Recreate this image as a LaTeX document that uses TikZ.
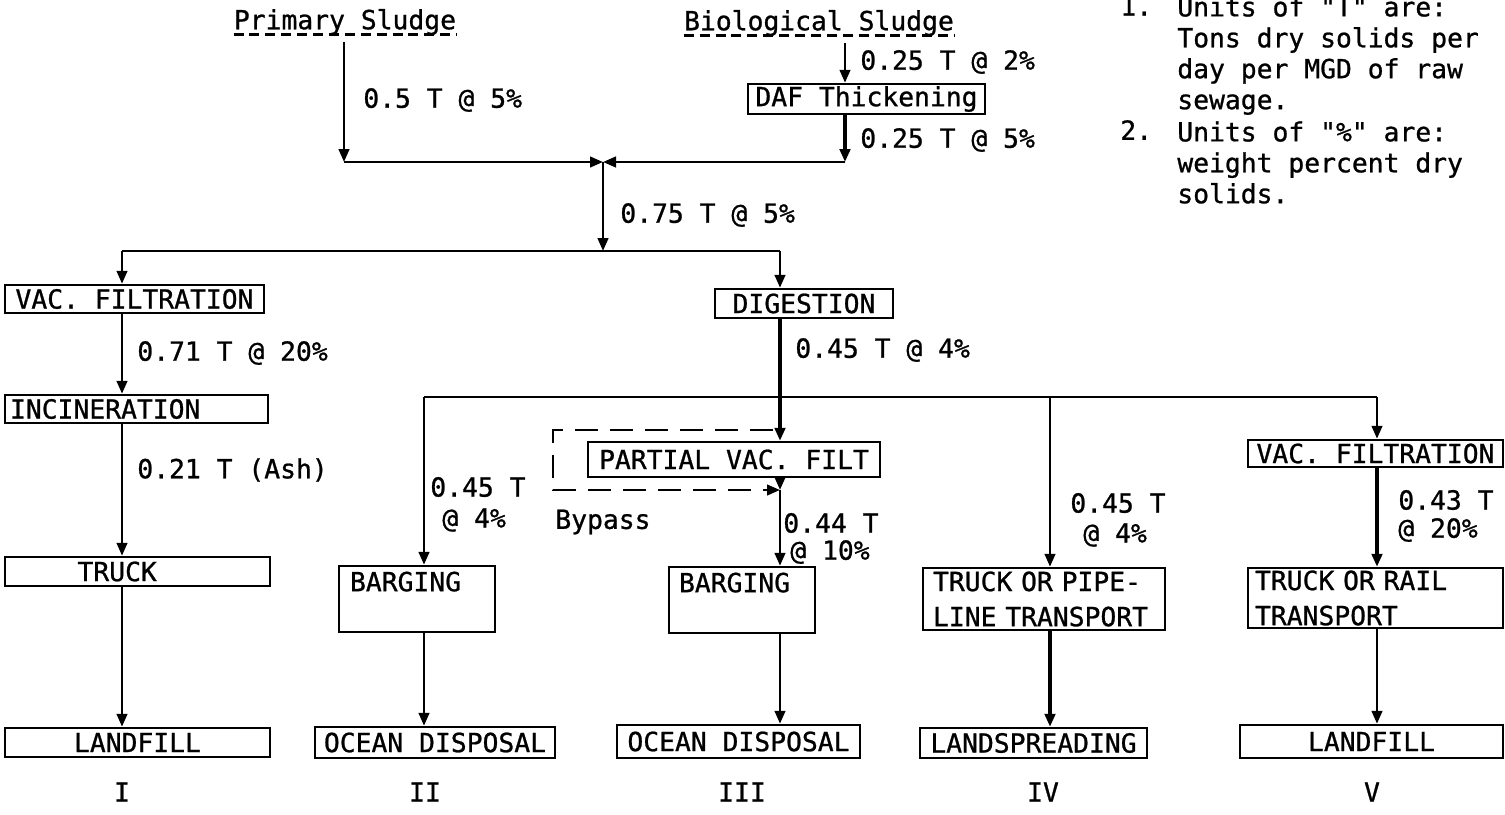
\documentclass[tikz,border=0pt]{standalone}
\usepackage{fontspec}
\newfontfamily\typer{DejaVu Sans Mono}[FakeBold=0.9]
\usetikzlibrary{positioning, arrows.meta}

\begin{document}
\begin{tikzpicture}[
    x=0.02cm, y=-0.02cm,
    >={Triangle[length=2.6mm, width=2.1mm]},
    font=\typer\fontsize{15}{20}\selectfont,
    wire/.style={draw=black, line width=1.6pt},
    flow/.style={wire, ->},
    heavy/.style={draw=black, line width=2.6pt, ->},
    bypass/.style={draw=black, line width=1.5pt, dash pattern=on 4.6mm off 2.4mm, ->},
    unit/.style={draw=black, line width=1.4pt, inner sep=0pt, minimum height=0.58cm},
    tag/.style={anchor=west, inner sep=0pt},
    uline/.style={line width=1.4pt, dash pattern=on 2mm off 1.18mm},
    note/.style={anchor=north west, inner sep=0pt, align=left,
      font=\typer\fontsize{15}{17.6}\selectfont},
  ]
  \useasboundingbox (0,0) rectangle (1505,815);

  % ----- sources -----
  \node[inner sep=0pt] (prim) at (345,22) {Primary Sludge};
  \draw[uline] ([yshift=-3pt]prim.base west) -- ([yshift=-3pt]prim.base east);
  \node[inner sep=0pt] (bio) at (819,23) {Biological Sludge};
  \draw[uline] ([yshift=-3pt]bio.base west) -- ([yshift=-3pt]bio.base east);
  \node[unit, minimum width=4.74cm, minimum height=0.6cm] (daf) at (866.5,99) {DAF Thickening};

  \coordinate (pcorner) at (344,162);
  \coordinate (bcorner) at (845,162);
  \coordinate (joint) at (603,162);

  \draw[flow, shorten <=4pt] (pcorner |- prim.south) -- (pcorner);
  \draw[flow, shorten <=4pt] (bcorner |- bio.south) -- (bcorner |- daf.north);
  \draw[heavy] (bcorner |- daf.south) -- (bcorner);
  \draw[flow] (pcorner) -- (joint);
  \draw[flow] (bcorner) -- (joint);
  \node[tag] (q1) at (363,100) {0.5 T @ 5\%};
  \node[tag] (q2) at (860,62) {0.25 T @ 2\%};
  \node[tag] (q3) at (860,140) {0.25 T @ 5\%};
  \node[tag] (q4) at (620,215) {0.75 T @ 5\%};

  % ----- notes -----
  \node[tag] (n1) at (1120,6) {1.};
  \node[note] (t1) at (1177,-4) {Units of "T" are:\\Tons dry solids per\\day per MGD of raw\\sewage.};
  \node[tag] (n2) at (1120,130) {2.};
  \node[note] (t2) at (1177,121) {Units of "\%" are:\\weight percent dry\\solids.};

  % ----- first split -----
  \coordinate (busIw) at (122,251);
  \coordinate (busIm) at (603,251);
  \coordinate (busIe) at (780,251);
  \draw[flow] (joint) -- (busIm);
  \draw[wire] (busIw) -- (busIe);

  \node[unit, minimum width=5.18cm, minimum height=0.56cm] (vac1) at (134.5,299) {VAC. FILTRATION};
  \node[unit, minimum width=3.56cm] (digest) at (804,303.5) {DIGESTION};
  \draw[flow] (busIw) -- (busIw |- vac1.north);
  \draw[flow] (busIe) -- (busIe |- digest.north);

  % ----- scheme I -----
  \node[unit, minimum height=0.56cm, text width=5.06cm, inner xsep=0.1cm, align=left] (incin) at (136.5,409) {INCINERATION};
  \node[unit, minimum width=5.3cm, text width=5.3cm, align=left] (truck) at (137.5,571.5) {\hspace*{1.45cm}TRUCK};
  \node[unit, minimum width=5.3cm] (landI) at (137.5,742.5) {LANDFILL};
  \draw[flow] (busIw |- vac1.south) -- (busIw |- incin.north);
  \draw[flow] (busIw |- incin.south) -- (busIw |- truck.north);
  \draw[flow] (busIw |- truck.south) -- (busIw |- landI.north);
  \node[tag] at (137,353) {0.71 T @ 20\%};
  \node[tag] at (137,470) {0.21 T (Ash)};

  % ----- second split -----
  \coordinate (busIIw) at (424,397);
  \coordinate (busIIm) at (780,397);
  \coordinate (busIV) at (1050,397);
  \coordinate (busIIe) at (1377,397);
  \draw[heavy, -] (busIe |- digest.south) -- (busIIm);
  \draw[wire] (busIIw) -- (busIIe);
  \node[tag] at (795,350) {0.45 T @ 4\%};

  % ----- scheme II -----
  \node[unit, minimum height=1.32cm, text width=2.68cm, inner xsep=0.22cm, align=left] (barge2) at (417,599) {BARGING\\\mbox{}};
  \node[unit, minimum width=4.8cm, minimum height=0.62cm] (ocean2) at (435,742.5) {OCEAN DISPOSAL};
  \draw[flow] (busIIw) -- (busIIw |- barge2.north);
  \draw[flow] (busIIw |- barge2.south) -- (busIIw |- ocean2.north);
  \node[tag] at (430,487) {0.45 T};
  \node[tag] at (442,520) {@ 4\%};

  % ----- scheme III (with bypass) -----
  \node[unit, minimum width=5.84cm, minimum height=0.7cm] (partial) at (734,459.5) {PARTIAL VAC. FILT};
  \node[unit, minimum height=1.32cm, text width=2.52cm, inner xsep=0.2cm, align=left] (barge3) at (742,600) {BARGING\\\mbox{}};
  \node[unit, minimum width=4.86cm, minimum height=0.66cm] (ocean3) at (738.5,741.5) {OCEAN DISPOSAL};
  \coordinate (bypin) at (773,430);
  \coordinate (bypnw) at (553,430);
  \coordinate (bypsw) at (553,490);
  \coordinate (bypout) at (780,490);
  \draw[heavy] (busIIm) -- (busIIm |- partial.north);
  \draw[bypass] (bypin) -- (bypnw) -- (bypsw) -- (bypout);
  \draw[flow] (partial.south -| bypout) -- (bypout);
  \draw[flow] (bypout) -- (bypout |- barge3.north);
  \draw[flow] (bypout |- barge3.south) -- (bypout |- ocean3.north);
  \node[tag] at (555,522) {Bypass};
  \node[tag] at (783,523) {0.44 T};
  \node[tag] at (790,552) {@ 10\%};

  % ----- scheme IV -----
  \node[unit, minimum height=1.24cm, text width=4.44cm, inner xsep=0.2cm, align=left] (pipe) at (1044,599) {TRUCK OR PIPE-\\LINE TRANSPORT};
  \node[unit, minimum width=4.54cm, minimum height=0.6cm] (spread) at (1033.5,743) {LANDSPREADING};
  \draw[flow] (busIV) -- (busIV |- pipe.north);
  \draw[heavy] (busIV |- pipe.south) -- (busIV |- spread.north);
  \node[tag] at (1070,503) {0.45 T};
  \node[tag] at (1083,535) {@ 4\%};

  % ----- scheme V -----
  \node[unit, minimum width=5.1cm, minimum height=0.54cm] (vac5) at (1375.5,453.5) {VAC. FILTRATION};
  \node[unit, minimum height=1.2cm, text width=4.82cm, inner xsep=0.14cm, align=left] (rail) at (1375.5,598) {TRUCK OR RAIL\\TRANSPORT};
  \node[unit, minimum width=5.26cm, minimum height=0.66cm] (landV) at (1371.5,741.5) {LANDFILL};
  \draw[flow] (busIIe) -- (busIIe |- vac5.north);
  \draw[heavy] (busIIe |- vac5.south) -- (busIIe |- rail.north);
  \draw[flow] (busIIe |- rail.south) -- (busIIe |- landV.north);
  \node[tag] at (1398,500) {0.43 T};
  \node[tag] at (1398,530) {@ 20\%};

  % ----- scheme numbers -----
  \node (rI) at (122,792) {I};
  \node (rII) at (425,792) {II};
  \node (rIII) at (742,792) {III};
  \node (rIV) at (1043,792) {IV};
  \node (rV) at (1372,792) {V};

\end{tikzpicture}
\end{document}
